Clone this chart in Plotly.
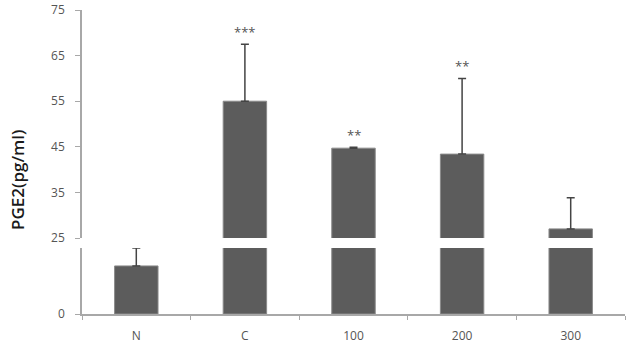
import plotly.graph_objects as go

categories = ["N", "C", "100", "200", "300"]
means = [18.2, 55.0, 44.7, 43.4, 27.0]
errors_up = [6.8, 12.5, 0.2, 16.6, 6.8]
stars = ["", "***", "**", "**", ""]

BAR = "#5c5c5c"
EDGE = "#8a8a8a"
AX = "#a8a8a8"
ERR = "#444444"
FONT = "Open Sans"

fig = go.Figure()

# lower (broken) panel: 0-25
low_err = [e if m < 25 else 0 for m, e in zip(means, errors_up)]
fig.add_trace(go.Bar(
    x=categories, y=means, xaxis="x", yaxis="y2",
    marker=dict(color=BAR, line=dict(color=EDGE, width=1)),
    width=0.4,
    error_y=dict(type="data", array=low_err, arrayminus=[0]*5, symmetric=False,
                 color=ERR, thickness=1.5, width=4),
    showlegend=False, hoverinfo="skip",
))

# upper panel: 25-75
up_err = [e if m >= 25 else 0 for m, e in zip(means, errors_up)]
fig.add_trace(go.Bar(
    x=categories, y=means, xaxis="x2", yaxis="y",
    marker=dict(color=BAR, line=dict(color=EDGE, width=1)),
    width=0.4,
    error_y=dict(type="data", array=up_err, arrayminus=[0]*5, symmetric=False,
                 color=ERR, thickness=1.5, width=4),
    showlegend=False, hoverinfo="skip",
))

annotations = []
for i, (m, e, s) in enumerate(zip(means, errors_up, stars)):
    if s:
        annotations.append(dict(
            x=i, y=m + e, xref="x2", yref="y", text=s, showarrow=False,
            yanchor="middle", yshift=12,
            font=dict(family=FONT, size=13, color="#555555"),
        ))
annotations.append(dict(
    x=-65/543, y=(314-180)/304, xref="paper", yref="paper", text="PGE2(pg/ml)",
    showarrow=False, textangle=-90, xanchor="center", yanchor="middle",
    font=dict(family=FONT, size=17, color="#1a1a1a", weight=600),
))

fig.update_layout(
    width=631, height=347,
    margin=dict(l=82, r=6, t=10, b=33, autoexpand=False),
    plot_bgcolor="white", paper_bgcolor="white",
    annotations=annotations,
    xaxis=dict(
        type="category", range=[-0.5, 4.5], anchor="y2", domain=[0, 1],
        showline=True, linecolor=AX, linewidth=1.5, automargin=False,
        ticks="outside", tickson="boundaries", ticklen=4, tickcolor=AX,
        ticklabelstandoff=10,
        tickfont=dict(family=FONT, size=12, color="#555555"),
        showgrid=False, zeroline=False,
    ),
    xaxis2=dict(
        type="category", range=[-0.5, 4.5], anchor="y", overlaying="x",
        visible=False, showgrid=False,
    ),
    yaxis=dict(
        domain=[(314-238)/304, 1.0], range=[25, 75], anchor="x2",
        tickvals=[25, 35, 45, 55, 65, 75], automargin=False,
        showline=True, linecolor=AX, linewidth=1.5,
        ticks="outside", ticklen=5, tickcolor=AX,
        ticklabelstandoff=8,
        tickfont=dict(family=FONT, size=12, color="#555555"),
        showgrid=False, zeroline=False,
    ),
    yaxis2=dict(
        domain=[0, (314-248)/304], range=[0, 25], anchor="x",
        tickvals=[0], automargin=False,
        showline=True, linecolor=AX, linewidth=1.5,
        ticks="outside", ticklen=5, tickcolor=AX,
        ticklabelstandoff=8,
        tickfont=dict(family=FONT, size=12, color="#555555"),
        showgrid=False, zeroline=False,
    ),
)

fig.write_html("out.html")
